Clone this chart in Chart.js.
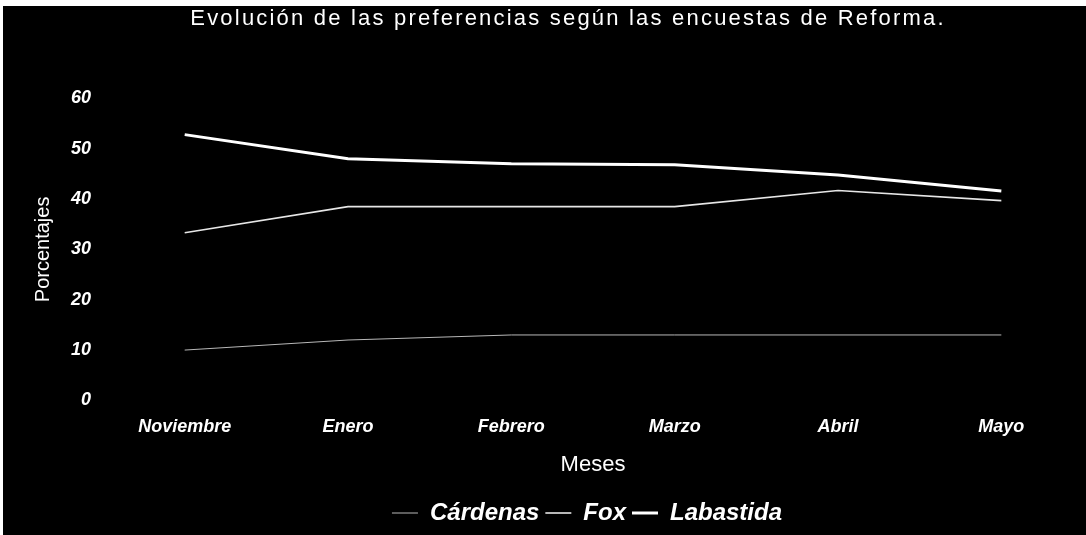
<!DOCTYPE html>
<html>
<head>
<meta charset="utf-8">
<script src="https://cdn.jsdelivr.net/npm/chart.js@4.4.0/dist/chart.umd.min.js"></script>
<style>
  html, body { margin: 0; padding: 0; background: #fff; }
  #wrap { position: absolute; left: 3px; top: 6px; width: 1083px; height: 529px; background: #000; }
</style>
</head>
<body>
<div id="wrap"><canvas id="chart"></canvas></div>
<script>
// Encuestas de Reforma: porcentaje de preferencia por candidato
const meses = ['Noviembre', 'Enero', 'Febrero', 'Marzo', 'Abril', 'Mayo'];
const cardenas = [10, 12, 13, 13, 13, 13];
const fox = [33.3, 38.5, 38.5, 38.5, 41.7, 39.7];
const labastida = [52.8, 48, 47, 46.8, 44.8, 41.6];
const yTicks = [0, 10, 20, 30, 40, 50, 60];

const fontFamily = '"Liberation Sans", Arial, sans-serif';

// wraps a layout box's draw so it can be nudged sideways / letter-spaced
function shiftBox(chart, box, dx, spacing) {
    if (!box) return;
    const draw = box.draw.bind(box);
    box.draw = function (area) {
        const ctx = chart.ctx;
        ctx.save();
        if (spacing) ctx.letterSpacing = spacing;
        ctx.translate(dx, 0);
        draw(area);
        ctx.restore();
    };
}

const boxNudge = {
    id: 'boxNudge',
    afterInit(chart) {
        shiftBox(chart, chart.titleBlock, 11, '2.2px');
        shiftBox(chart, chart.legend, 30, null);
    }
};

new Chart(document.getElementById('chart'), {
    type: 'line',
    data: {
        labels: meses,
        datasets: [
            { label: 'Cárdenas', data: cardenas, borderColor: '#b8b8b8', backgroundColor: '#b8b8b8', borderWidth: 1 },
            { label: 'Fox', data: fox, borderColor: '#e6e6e6', backgroundColor: '#e6e6e6', borderWidth: 1.6 },
            { label: 'Labastida', data: labastida, borderColor: '#ffffff', backgroundColor: '#ffffff', borderWidth: 3 }
        ]
    },
    plugins: [boxNudge],
    options: {
        responsive: true,
        maintainAspectRatio: false,
        animation: false,
        layout: { padding: { left: 28, right: 3, top: 0, bottom: 0 } },
        elements: { point: { radius: 0 }, line: { tension: 0 } },
        plugins: {
            title: {
                display: true,
                text: 'Evolución de las preferencias según las encuestas de Reforma.',
                color: '#fff',
                font: { family: fontFamily, size: 22, weight: 'normal' },
                padding: { top: 0, bottom: 66 }
            },
            legend: {
                position: 'bottom',
                labels: {
                    color: '#fff',
                    usePointStyle: true,
                    pointStyle: 'line',
                    pointStyleWidth: 26,
                    boxHeight: 22,
                    padding: 6,
                    font: { family: fontFamily, size: 24, style: 'italic', weight: 'bold' }
                }
            },
            tooltip: { enabled: false }
        },
        scales: {
            x: {
                offset: true,
                grid: { display: false, drawTicks: false },
                border: { display: false },
                ticks: {
                    color: '#fff',
                    padding: 16,
                    font: { family: fontFamily, size: 18, style: 'italic', weight: 'bold' }
                },
                title: {
                    display: true,
                    text: 'Meses',
                    color: '#fff',
                    font: { family: fontFamily, size: 22, lineHeight: 1 },
                    padding: { top: 0, bottom: 19 }
                }
            },
            y: {
                min: 0,
                max: 60,
                afterBuildTicks: axis => { axis.ticks = yTicks.map(v => ({ value: v })); },
                grid: { display: false, drawTicks: false },
                border: { display: false },
                ticks: {
                    color: '#fff',
                    padding: 12,
                    font: { family: fontFamily, size: 18, style: 'italic', weight: 'bold' }
                },
                title: {
                    display: true,
                    text: 'Porcentajes',
                    color: '#fff',
                    font: { family: fontFamily, size: 20 },
                    padding: { top: 0, bottom: 4 }
                }
            }
        }
    }
});
</script>
</body>
</html>
